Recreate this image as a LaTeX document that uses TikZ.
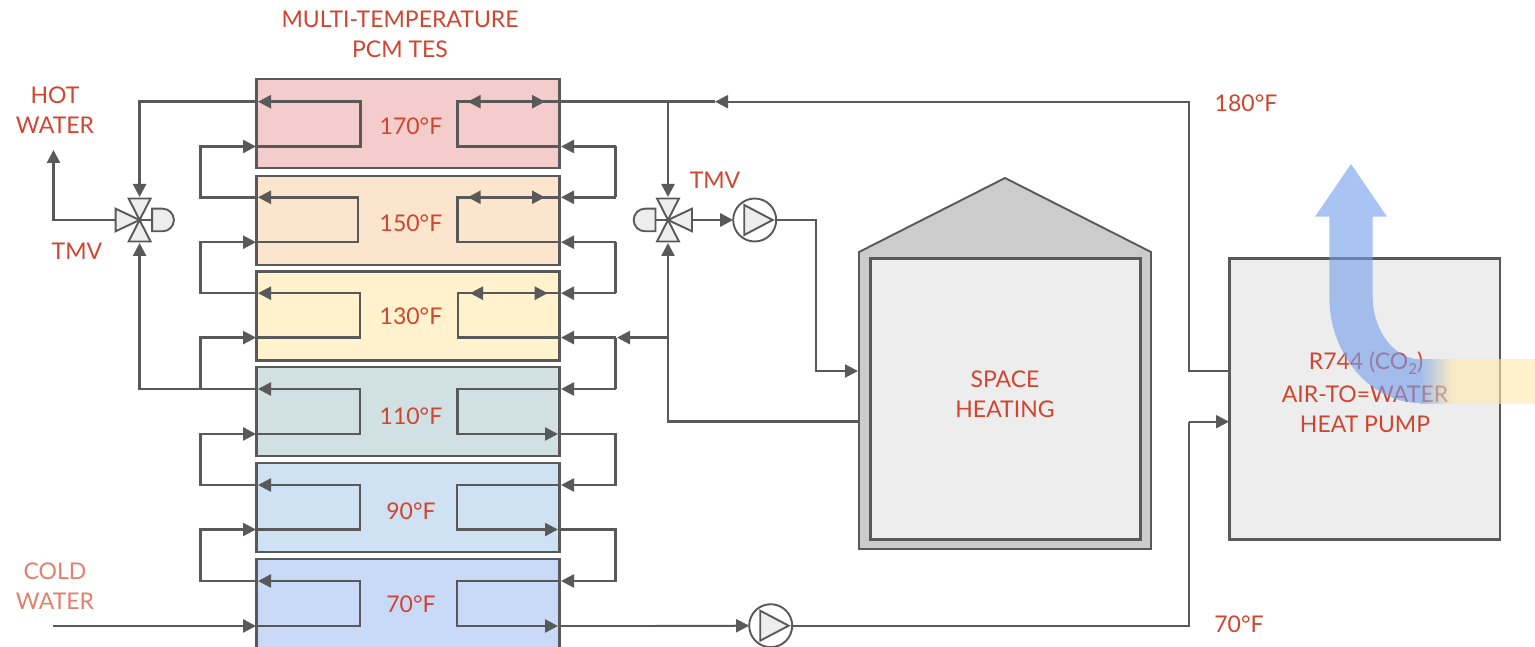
\documentclass[tikz,border=0pt]{standalone}
\usepackage{fontspec}
\setmainfont{Lato}
\usetikzlibrary{arrows.meta,calc}
\definecolor{txt}{HTML}{D0452F}
\definecolor{coldtxt}{HTML}{E37F6B}
\definecolor{ln}{HTML}{595959}
\definecolor{lt}{HTML}{EDEDED}
\definecolor{wall}{HTML}{CCCCCC}
\definecolor{c170}{HTML}{F4CCCC}
\definecolor{c150}{HTML}{FCE5CD}
\definecolor{c130}{HTML}{FFF2CC}
\definecolor{c110}{HTML}{D0E0E3}
\definecolor{c90}{HTML}{CFE2F3}
\definecolor{c70}{HTML}{C9DAF8}
\definecolor{airb}{HTML}{719EEB}
\definecolor{airy}{HTML}{FFE9AA}
\pgfdeclarehorizontalshading{tailshade}{100bp}{color(0bp)=(airb);color(25bp)=(airb);color(39bp)=(airy);color(100bp)=(airy)}
\tikzset{
 x=1pt,y=-1pt,
 tank/.style={draw=ln,line width=2.6pt,minimum width=303pt,inner sep=0pt,outer sep=0pt,anchor=north west},
 lab/.style={text=txt,font=\fontsize{23}{30}\selectfont,align=center,inner sep=0pt},
 pipe/.style={draw=ln,line width=2.5pt,line join=miter},
 flow/.style={pipe,-{Triangle[length=13pt,width=13pt]}},
 valve/.style={draw=ln,line width=1.9pt,fill=lt,line join=miter},
 pumpc/.style={circle,draw=ln,line width=1.9pt,fill=white,minimum size=43pt,inner sep=0pt,outer sep=0pt},
 tmvalve/.pic={
  \draw[valve] (0,0) -- (12.5,0);
  \draw[valve] (12.5,-11.3) -- (23,-11.3) arc[start angle=-90,end angle=90,radius=11.3] -- (12.5,11.3) -- cycle;
  \draw[valve] (-24,-11.3) -- (0,0) -- (-24,11.3) -- cycle;
  \draw[valve] (-11,-21.5) -- (11,-21.5) -- (0,0) -- cycle;
  \draw[valve] (-11,21.5) -- (11,21.5) -- (0,0) -- cycle;
 },
 pumptri/.pic={
  \draw[valve] (-10.5,-15) -- (-10.5,15) -- (18,0) -- cycle;
 },
}
\begin{document}
\begin{tikzpicture}
\useasboundingbox (0,0) rectangle (1535,647);
\clip (0,0) rectangle (1535,647);
\fill[white] (0,0) rectangle (1535,647);
% tanks
\node[tank,fill=c170,minimum height=89pt] (t170) at (256.5,79) {};
\node[tank,fill=c150,minimum height=89pt] (t150) at (256.5,176) {};
\node[tank,fill=c130,minimum height=89pt] (t130) at (256.5,271.5) {};
\node[tank,fill=c110,minimum height=89pt] (t110) at (256.5,367) {};
\node[tank,fill=c90,minimum height=89pt] (t90) at (256.5,463) {};
\node[tank,fill=c70,minimum height=100pt] (t70) at (256.5,559) {};
\node[lab] (l170) at (411,126) {170°F};
\node[lab] (l150) at (411,223) {150°F};
\node[lab] (l130) at (411,316) {130°F};
\node[lab] (l110) at (411,416) {110°F};
\node[lab] (l90) at (411,511) {90°F};
\node[lab] (l70) at (411,604) {70°F};
\node[lab] (title) at (400,34) {MULTI-TEMPERATURE\\PCM TES};
\node[lab] (hot) at (55,110) {HOT\\WATER};
\node[lab,text=coldtxt] (cold) at (55,586) {COLD\\WATER};
\node[lab] (tmva) at (77,251) {TMV};
\node[lab] (tmvb) at (715,180) {TMV};
\node[lab] (t180) at (1246,103) {180°F};
\node[lab] (t70f) at (1239,624) {70°F};
% ports
\foreach \n/\u/\l/\il/\ir in {170/101.7/146.5/360.5/457.5,150/197.3/242.2/358/457.5,130/293.2/337.6/360/458,110/389/434/360/457.5,90/485/529.5/360/457,70/581/626/360/457}{
 \coordinate (LU\n) at (258,\u);
 \coordinate (LL\n) at (256,\l);
 \coordinate (IU\n) at (\il,\u);
 \coordinate (IL\n) at (\il,\l);
 \coordinate (JU\n) at (\ir,\u);
 \coordinate (JL\n) at (\ir,\l);
 \coordinate (RU\n) at (561,\u);
 \coordinate (RL\n) at (561,\l);
 \coordinate (SL\n) at (558,\l);
 \draw[flow] (LL\n) -- (IL\n) -- (IU\n) -- (LU\n);
}
% left loops
\coordinate (lx) at (200.5,0);
\draw[flow] (LU150) -- (lx |- LU150) -- (lx |- LL170) -- (LL170);
\draw[flow] (LU130) -- (lx |- LU130) -- (lx |- LL150) -- (LL150);
\draw[flow] (lx |- LU110) -- (lx |- LL130) -- (LL130);
\draw[flow] (LU90) -- (lx |- LU90) -- (lx |- LL110) -- (LL110);
\draw[flow] (LU70) -- (lx |- LU70) -- (lx |- LL90) -- (LL90);
% right coils, top three
\foreach \n/\tl/\tr in {170/467.7/545,150/467.7/545,130/470/547.7}{
 \draw[flow] (RL\n) -- (JL\n) -- (JU\n) -- (\tr,0 |- JU\n);
 \draw[flow] (RU\n) -- (\tl,0 |- RU\n);
}
% right coils, bottom three
\foreach \n in {110,90,70}{
 \draw[flow] (RU\n) -- (JU\n) -- (JL\n) -- (SL\n);
}
% right loops
\coordinate (rx) at (615.7,0);
\draw[pipe] (rx |- RL170) -- (rx |- RU150);
\draw[flow] (rx |- RL170) -- (RL170);
\draw[flow] (rx |- RU150) -- (RU150);
\draw[pipe] (rx |- RL150) -- (rx |- RU130);
\draw[flow] (rx |- RL150) -- (RL150);
\draw[flow] (rx |- RU130) -- (RU130);
\draw[pipe] (rx |- RL130) -- (rx |- RU110);
\draw[flow] (rx |- RL130) -- (RL130);
\draw[flow] (rx |- RU110) -- (RU110);
\draw[flow] (SL110) -- (rx |- SL110) -- (rx |- RU90) -- (RU90);
\draw[flow] (SL90) -- (rx |- SL90) -- (rx |- RU70) -- (RU70);
% valves
\coordinate (v1) at (139.6,220);
\coordinate (v2) at (668,220);
\draw[flow] (LU170) -- (v1 |- LU170) -- ($(v1)+(0,-23)$);
\draw[flow] (LU110) -- (v1 |- LU110) -- ($(v1)+(0,23)$);
\coordinate (hotend) at (53.5,150);
\draw[flow] ($(v1)+(-24,0)$) -- (hotend |- v1) -- (hotend);
\pic at (v1) {tmvalve};
% supply
\coordinate (hp180) at (1229.5,370.7);
\coordinate (hp70) at (1229,421.7);
\coordinate (vx) at (1188.5,0);
\coordinate (htop) at (715,101.7);
\draw[flow,line width=2pt] (hp180) -- (vx |- hp180) -- (vx |- htop) -- (htop);
\draw[pipe] (htop) -- (RU170);
\draw[flow] (v2 |- htop) -- ($(v2)+(0,-23)$);
% house
\draw[draw=ln,line width=1.9pt,fill=wall,line join=miter] (859,252) -- (1005,178) -- (1151,252) -- (1151,549) -- (859,549) -- cycle;
\node[draw=ln,line width=2.6pt,fill=lt,inner sep=0pt,outer sep=0pt,minimum width=270pt,minimum height=281pt,anchor=north west] (room) at (870.5,258.5) {};
\node[lab] (roomlab) at (1005,394) {SPACE\\HEATING};
\coordinate (hin) at (858,371);
\coordinate (hret) at (859,421.7);
% return from space heating
\draw[flow] (hret) -- (v2 |- hret) -- ($(v2)+(0,23)$);
\coordinate (rj) at (617,337.6);
\draw[flow] (v2 |- rj) -- (rj);
\pic[xscale=-1] at (v2) {tmvalve};
% pumps
\node[pumpc] (p1) at (754.7,220) {};
\pic at (p1) {pumptri};
\draw[flow] ($(v2)+(24,0)$) -- (p1.west);
\draw[flow,line width=2pt] (p1.east) -- (816,0 |- p1.east) -- (816,0 |- hin) -- (hin);
\node[pumpc] (p2) at (770.7,625.7) {};
\pic at (p2) {pumptri};
% cold in
\coordinate (coldin) at (53,626);
\draw[flow] (coldin) -- (LL70);
\coordinate (mid) at (655,626);
\draw[pipe] (SL70) -- (mid);
\draw[flow,line width=2pt] (mid) -- (p2.west);
% heat pump
\node[draw=ln,line width=2.4pt,fill=lt,inner sep=0pt,outer sep=0pt,minimum width=270.5pt,minimum height=281pt,anchor=north west] (hp) at (1229.5,258.5) {};
\draw[pipe,line width=2pt] (p2.east) -- (vx |- p2.east) -- (vx |- hp70);
\draw[flow,line width=2pt] (vx |- hp70) -- (hp70);
\node[lab] (hpa) at (1366,363) {R744 (CO\raisebox{-5pt}{\fontsize{15}{15}\selectfont 2})};
\node[lab] (hpb) at (1365,394) {AIR-TO=WATER};
\node[lab] (hpc) at (1365,424) {HEAT PUMP};
% air flow
\fill[airb,opacity=.6] (1351,164) -- (1387,216.7) -- (1372.7,216.7) -- (1372.7,296.7)
  .. controls (1372.7,331.3) and (1395.2,359.3) .. (1420,359.3) -- (1420,403)
  .. controls (1371.2,403) and (1329.3,355.4) .. (1329.3,296.7) -- (1329.3,216.7) -- (1315,216.7) -- cycle;
\shade[shading=tailshade,opacity=.6] (1420,359.3) rectangle (1535,403);
\end{tikzpicture}
\end{document}
